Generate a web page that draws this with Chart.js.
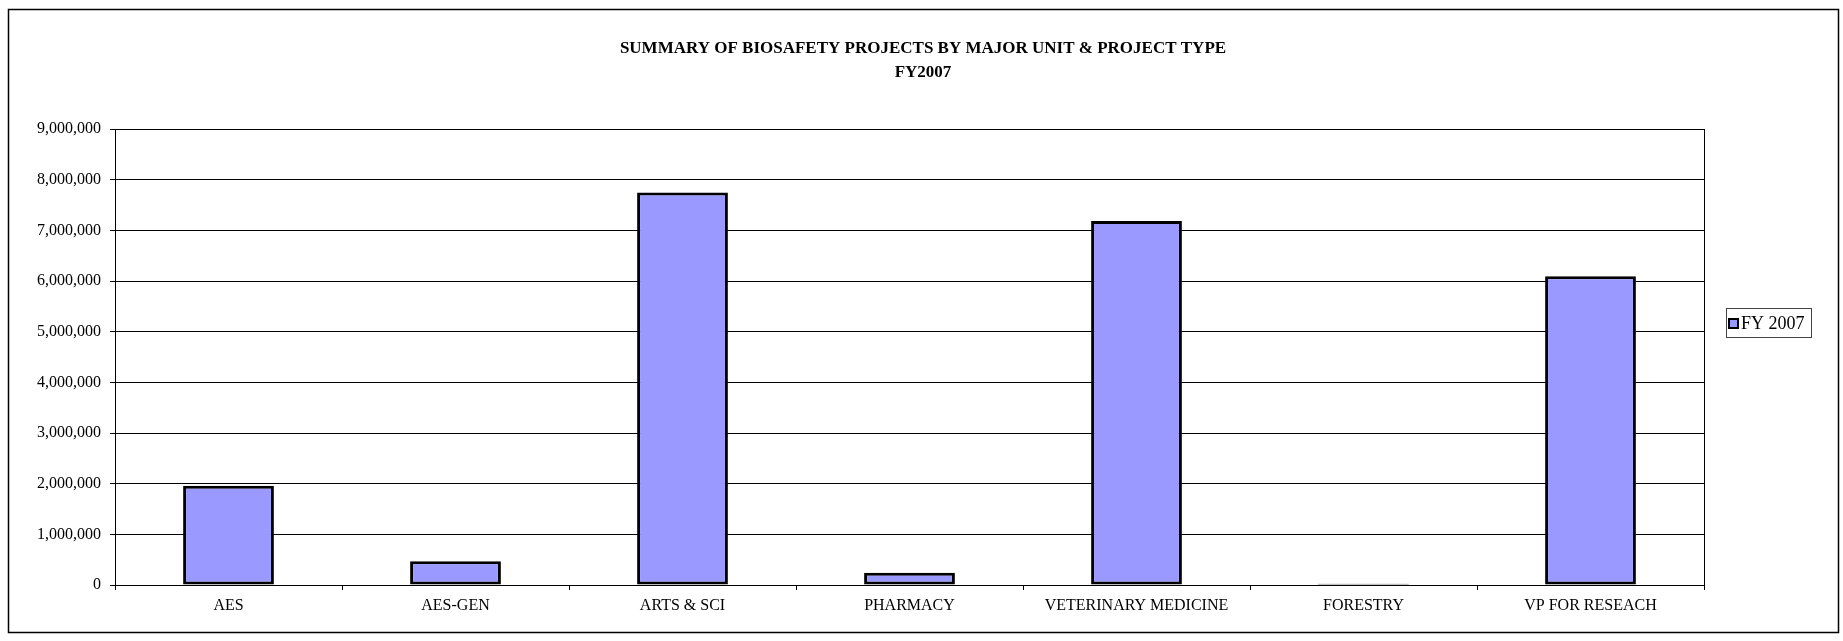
<!DOCTYPE html>
<html>
<head>
<meta charset="utf-8">
<script src="https://cdn.jsdelivr.net/npm/chart.js@4/dist/chart.umd.min.js"></script>
<style>
    html, body { margin: 0; padding: 0; background: #fff; }
    #wrap { width: 1843px; height: 641px; }
</style>
</head>
<body>
<div id="wrap"><canvas id="biosafety" width="1843" height="641"></canvas></div>
<script>
// values
const units = ['AES', 'AES-GEN', 'ARTS & SCI', 'PHARMACY', 'VETERINARY MEDICINE', 'FORESTRY', 'VP FOR RESEACH'];
const fy2007 = [1960000, 470000, 7745000, 243000, 7185000, 25000, 6095000];
const titleLines = ['SUMMARY OF BIOSAFETY PROJECTS BY MAJOR UNIT & PROJECT TYPE', 'FY2007'];
const seriesName = 'FY 2007';

const SERIF = "'Liberation Serif', 'Times New Roman', serif";
Chart.defaults.font.family = SERIF;
Chart.defaults.font.size = 16;
Chart.defaults.color = '#000';

// outer frame, title, plot border and the boxed legend
const excelLook = {
    id: 'excelLook',
    beforeDraw(chart) {
        const c = chart.ctx;
        c.save();
        c.fillStyle = '#fff';
        c.fillRect(0, 0, chart.width, chart.height);
        c.restore();
    },
    afterDraw(chart) {
        const c = chart.ctx;
        const a = chart.chartArea;
        c.save();
        // chart frame
        c.strokeStyle = '#000';
        c.lineWidth = 1.5;
        c.strokeRect(8.5, 9.5, 1830, 623);
        // plot area border
        c.lineWidth = 1;
        c.strokeRect(Math.round(a.left) + 0.5, Math.round(a.top) + 0.5, Math.round(a.right - a.left), Math.round(a.bottom - a.top));
        // title
        c.fillStyle = '#000';
        c.textAlign = 'center';
        c.textBaseline = 'middle';
        c.font = 'bold 17px ' + SERIF;
        c.fillText(titleLines[0], 923, 49);
        c.fillText(titleLines[1], 923, 73);
        // legend
        const ds = chart.data.datasets[0];
        c.strokeStyle = '#444';
        c.lineWidth = 1;
        c.strokeRect(1726.5, 308.5, 85, 29);
        c.fillStyle = ds.backgroundColor;
        c.fillRect(1728, 318, 10, 10);
        c.strokeStyle = '#000';
        c.lineWidth = 2;
        c.strokeRect(1729, 319, 9, 9);
        c.fillStyle = '#000';
        c.textAlign = 'left';
        c.font = '18px ' + SERIF;
        c.fillText(ds.label, 1741, 324);
        c.restore();
    }
};

new Chart(document.getElementById('biosafety'), {
    type: 'bar',
    data: {
        labels: units,
        datasets: [{
            label: seriesName,
            data: fy2007,
            backgroundColor: '#9999FF',
            borderColor: '#000',
            borderWidth: 3,
            borderSkipped: false,
            categoryPercentage: 1,
            barPercentage: 0.4
        }]
    },
    options: {
        responsive: false,
        animation: false,
        layout: { padding: { left: 0, top: 129, right: 139, bottom: 0 } },
        plugins: {
            legend: { display: false },
            title: { display: false },
            tooltip: { enabled: false }
        },
        scales: {
            x: {
                grid: { drawOnChartArea: false, drawTicks: true, tickLength: 5, color: '#000', offset: true },
                border: { color: '#000', width: 1 },
                ticks: { padding: 6, maxRotation: 0, autoSkip: false, font: { size: 16 } },
                afterFit(scale) { scale.height = 56; }
            },
            y: {
                min: 0,
                max: 9000000,
                grid: { color: '#000', lineWidth: 1, tickLength: 5 },
                border: { color: '#000', width: 1 },
                ticks: {
                    stepSize: 1000000,
                    padding: 9,
                    font: { size: 16 },
                    callback: v => Number(v).toLocaleString('en-US')
                },
                afterFit(scale) { scale.width = 115; }
            }
        }
    },
    plugins: [excelLook]
});
</script>
</body>
</html>
